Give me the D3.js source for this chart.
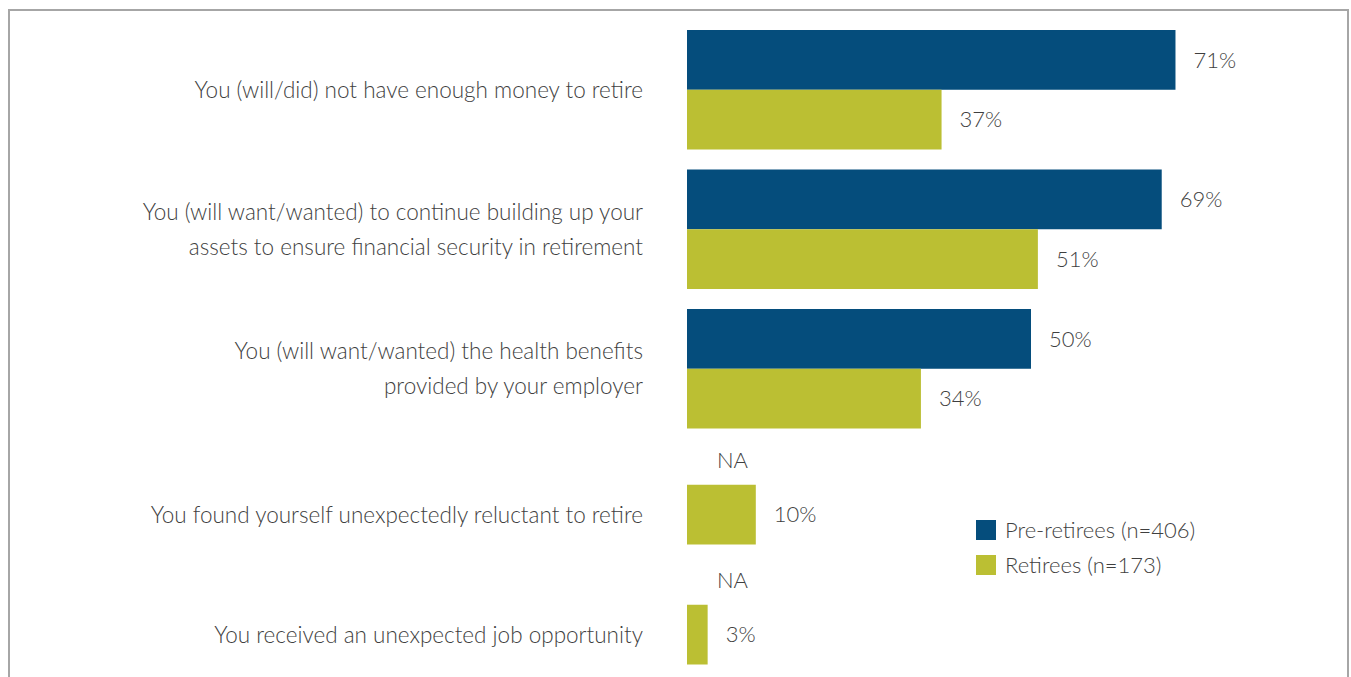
<!DOCTYPE html>
<html>
<head>
<meta charset="utf-8">
<script src="https://cdn.jsdelivr.net/npm/d3@7"></script>
<style>
  html, body { margin: 0; padding: 0; background: #fff; }
  svg { display: block; }
  text { font-family: "Source Sans Pro", Lato, "Open Sans", sans-serif; fill: #3f3f3f; }
</style>
</head>
<body>
<svg id="chart" width="1351" height="677"></svg>
<script>
// Reasons for working longer, by respondent group
const categories = [
  ["You (will/did) not have enough money to retire"],
  ["You (will want/wanted) to continue building up your", "assets to ensure financial security in retirement"],
  ["You (will want/wanted) the health benefits", "provided by your employer"],
  ["You found yourself unexpectedly reluctant to retire"],
  ["You received an unexpected job opportunity"]
];
const preRetirees = [71, 69, 50, null, null];
const retirees = [37, 51, 34, 10, 3];
const seriesNames = ["Pre-retirees (n=406)", "Retirees (n=173)"];
const seriesColors = ["#054d7c", "#bbbf33"];
const naLabel = "NA";

const svg = d3.select("#chart");
const fontSize = 22;
const labelFontSize = 22.5;

// frame
svg.append("rect")
  .attr("x", 9).attr("y", 10).attr("width", 1339).attr("height", 700)
  .attr("fill", "none").attr("stroke", "#a6a6a6").attr("stroke-width", 2);

const rows = categories.map((c, i) => ({
  id: i, lines: c, values: [preRetirees[i], retirees[i]]
}));

const x = d3.scaleLinear().domain([0, 100]).range([687, 1375]);

// upper panel: first three questions; lower panel: last two
const upperIds = rows.slice(0, 3).map(d => d.id);
const lowerIds = rows.slice(3).map(d => d.id);
const yUpper = d3.scaleBand().domain(upperIds).range([30, 428.5]).paddingInner(20 / 139.5).paddingOuter(0);
const yLower = d3.scaleBand().domain(lowerIds).range([425, 665]).paddingInner(0).paddingOuter(0);
const yGroup = id => (id < 3 ? yUpper(id) : yLower(id));
const bandH = yUpper.bandwidth();
const ySeries = d3.scaleBand().domain([0, 1]).range([0, bandH]);

const g = svg.append("g");
const groups = g.selectAll("g.row").data(rows).join("g")
  .attr("class", "row")
  .attr("transform", d => `translate(0,${yGroup(d.id)})`);

// bars
groups.selectAll("rect.bar")
  .data(d => d.values.map((v, s) => ({ v, s })).filter(e => e.v != null))
  .join("rect")
  .attr("class", "bar")
  .attr("x", x(0))
  .attr("y", e => ySeries(e.s))
  .attr("width", e => x(e.v) - x(0))
  .attr("height", ySeries.bandwidth())
  .attr("fill", e => seriesColors[e.s]);

// value labels
groups.selectAll("text.val")
  .data(d => d.values.map((v, s) => ({ v, s })))
  .join("text")
  .attr("class", "val")
  .attr("x", e => e.v == null ? x(0) + 30 : x(e.v) + 18)
  .attr("y", e => ySeries(e.s) + ySeries.bandwidth() / 2 + (e.v == null ? 5 : 0))
  .attr("dy", "0.35em")
  .attr("font-size", fontSize)
  .attr("font-weight", 300)
  .text(e => e.v == null ? naLabel : e.v + "%");

// category labels
groups.each(function (d) {
  const lineH = 35;
  const hasPre = d.values[0] != null;
  const cy = hasPre ? bandH / 2 : ySeries(1) + ySeries.bandwidth() / 2;
  const t = d3.select(this).append("text")
    .attr("text-anchor", "end")
    .attr("font-size", labelFontSize)
    .attr("font-weight", 300);
  d.lines.forEach((ln, i) => {
    t.append("tspan")
      .attr("x", 643)
      .attr("y", cy + (i - (d.lines.length - 1) / 2) * lineH)
      .attr("dy", "0.35em")
      .text(ln);
  });
});

// legend
const legend = svg.append("g").attr("transform", "translate(976,520)");
seriesNames.forEach((name, i) => {
  const li = legend.append("g").attr("transform", `translate(0,${i * 35})`);
  li.append("rect").attr("width", 20).attr("height", 20).attr("fill", seriesColors[i]);
  li.append("text").attr("x", 29).attr("y", 10).attr("dy", "0.35em")
    .attr("font-size", fontSize).attr("font-weight", 300).text(name);
});
</script>
</body>
</html>
